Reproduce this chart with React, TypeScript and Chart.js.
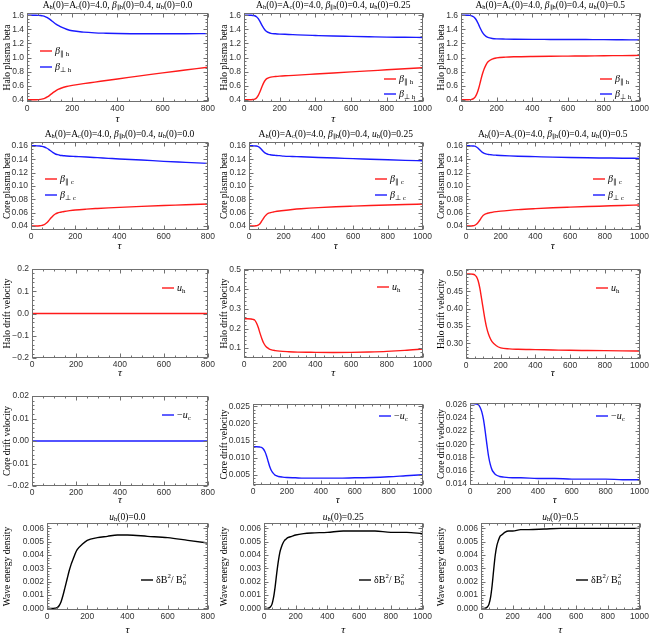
import React, { useEffect, useRef } from 'react';
import { Chart, registerables } from 'chart.js';
Chart.register(...registerables);

// ---------- sample times ----------
const tau800 = [0, 20, 40, 50, 60, 70, 80, 90, 100, 110, 120, 130, 140, 150, 175, 200, 250, 300, 350, 400, 500, 600, 700, 800];
const tau1000 = [0, 20, 40, 50, 60, 70, 80, 90, 100, 110, 120, 130, 140, 150, 175, 200, 250, 300, 400, 500, 600, 700, 800, 900, 1000];
const tauFlat800 = [0, 400, 800];

// ---------- row 1: halo plasma beta ----------
const betaParH_u0 = [0.400, 0.400, 0.400, 0.401, 0.404, 0.411, 0.423, 0.440, 0.462, 0.487, 0.510, 0.531, 0.549, 0.563, 0.588, 0.603, 0.628, 0.650, 0.673, 0.695, 0.738, 0.782, 0.822, 0.862];
const betaPerpH_u0 = [1.600, 1.600, 1.600, 1.599, 1.597, 1.592, 1.582, 1.566, 1.545, 1.520, 1.495, 1.472, 1.452, 1.435, 1.402, 1.380, 1.361, 1.351, 1.346, 1.342, 1.338, 1.338, 1.338, 1.340];
const betaParH_u25 = [0.4, 0.4, 0.4, 0.402, 0.408, 0.425, 0.46, 0.515, 0.58, 0.64, 0.68, 0.702, 0.714, 0.721, 0.729, 0.735, 0.742, 0.75, 0.765, 0.78, 0.795, 0.81, 0.825, 0.84, 0.855];
const betaPerpH_u25 = [1.6, 1.6, 1.6, 1.598, 1.594, 1.58, 1.552, 1.51, 1.46, 1.418, 1.385, 1.364, 1.352, 1.344, 1.337, 1.333, 1.328, 1.322, 1.313, 1.305, 1.3, 1.295, 1.29, 1.288, 1.285];
const betaParH_u5 = [0.4, 0.4, 0.4, 0.401, 0.405, 0.415, 0.44, 0.49, 0.57, 0.67, 0.765, 0.84, 0.895, 0.935, 0.978, 0.994, 1.005, 1.01, 1.015, 1.018, 1.02, 1.022, 1.025, 1.027, 1.03];
const betaPerpH_u5 = [1.6, 1.6, 1.6, 1.599, 1.593, 1.58, 1.555, 1.515, 1.46, 1.405, 1.357, 1.323, 1.301, 1.287, 1.271, 1.265, 1.262, 1.26, 1.258, 1.257, 1.256, 1.255, 1.254, 1.252, 1.25];

// ---------- row 2: core plasma beta ----------
const betaParC_u0 = [0.04, 0.04, 0.0403, 0.041, 0.042, 0.0445, 0.048, 0.052, 0.0555, 0.058, 0.0595, 0.0605, 0.0612, 0.0618, 0.063, 0.064, 0.0653, 0.0663, 0.0672, 0.068, 0.0695, 0.0708, 0.0718, 0.073];
const betaPerpC_u0 = [0.1605, 0.1603, 0.16, 0.1595, 0.1585, 0.157, 0.155, 0.1525, 0.15, 0.148, 0.147, 0.1462, 0.1457, 0.1453, 0.1447, 0.1443, 0.1435, 0.1425, 0.1415, 0.1405, 0.139, 0.137, 0.1355, 0.134];
const betaParC_u25 = [0.04, 0.04, 0.0403, 0.041, 0.0425, 0.046, 0.05, 0.054, 0.057, 0.0588, 0.0598, 0.0605, 0.061, 0.0615, 0.0625, 0.0633, 0.0647, 0.0658, 0.0675, 0.0688, 0.0698, 0.0707, 0.0715, 0.0722, 0.073];
const betaPerpC_u25 = [0.1605, 0.1603, 0.16, 0.1595, 0.158, 0.1555, 0.1525, 0.15, 0.1485, 0.1475, 0.147, 0.1465, 0.1462, 0.146, 0.1455, 0.1448, 0.1443, 0.1438, 0.1428, 0.142, 0.141, 0.1402, 0.1393, 0.1385, 0.1378];
const betaParC_u5 = [0.04, 0.04, 0.0403, 0.041, 0.0425, 0.0455, 0.049, 0.053, 0.056, 0.0578, 0.0588, 0.0595, 0.06, 0.0605, 0.0615, 0.0623, 0.0635, 0.0645, 0.066, 0.0673, 0.0683, 0.0692, 0.07, 0.0708, 0.0715];
const betaPerpC_u5 = [0.1605, 0.1603, 0.16, 0.1597, 0.1585, 0.1565, 0.154, 0.1515, 0.1497, 0.1485, 0.1478, 0.1473, 0.147, 0.1467, 0.1462, 0.1458, 0.1452, 0.1447, 0.144, 0.1433, 0.1427, 0.1423, 0.142, 0.1417, 0.1415];

// ---------- row 3: halo drift velocity ----------
const uH_u0 = [0, 0, 0];
const uH_u25 = [0.25, 0.25, 0.249, 0.247, 0.243, 0.228, 0.205, 0.175, 0.148, 0.126, 0.111, 0.102, 0.096, 0.092, 0.087, 0.084, 0.081, 0.079, 0.078, 0.0775, 0.078, 0.08, 0.083, 0.088, 0.095];
const uH_u5 = [0.5, 0.5, 0.499, 0.497, 0.492, 0.48, 0.458, 0.428, 0.397, 0.367, 0.343, 0.326, 0.314, 0.305, 0.293, 0.287, 0.284, 0.283, 0.282, 0.281, 0.28, 0.2795, 0.279, 0.2785, 0.278];

// ---------- row 4: core drift velocity (−u_c) ----------
const uC_u0 = [0, 0, 0];
const uC_u25 = [0.0132, 0.0132, 0.0131, 0.013, 0.0126, 0.0118, 0.0105, 0.0088, 0.0072, 0.0061, 0.0054, 0.0049, 0.0047, 0.0045, 0.0043, 0.0042, 0.0041, 0.004, 0.004, 0.004, 0.0041, 0.0042, 0.0044, 0.0047, 0.005];
const uC_u5 = [0.0262, 0.0262, 0.0261, 0.026, 0.0256, 0.0249, 0.0237, 0.0219, 0.0199, 0.0181, 0.0169, 0.0161, 0.0157, 0.0154, 0.0151, 0.015, 0.0149, 0.0149, 0.0148, 0.0148, 0.0147, 0.0147, 0.0147, 0.0146, 0.0146];

// ---------- row 5: wave energy density ----------
const wave_u0 = [0, 0, 0.00002, 0.00006, 0.0002, 0.0005, 0.001, 0.0016, 0.0022, 0.0028, 0.0033, 0.0037, 0.0041, 0.0044, 0.0048, 0.0051, 0.0053, 0.0054, 0.0055, 0.0055, 0.0054, 0.0053, 0.0051, 0.0049];
const wave_u25 = [0, 0, 0.0001, 0.0003, 0.0008, 0.0016, 0.0026, 0.0035, 0.0042, 0.0046, 0.0049, 0.0051, 0.0052, 0.0053, 0.0054, 0.0055, 0.0056, 0.00565, 0.0057, 0.0058, 0.0058, 0.0058, 0.0057, 0.0057, 0.0056];
const wave_u5 = [0, 0, 0.0001, 0.0003, 0.0008, 0.0017, 0.0029, 0.004, 0.0047, 0.0051, 0.0054, 0.0055, 0.0056, 0.0057, 0.0058, 0.0058, 0.0059, 0.0059, 0.00595, 0.006, 0.006, 0.006, 0.006, 0.006, 0.006];

// ---------- tick labels ----------
const xTicks800 = [0, 200, 400, 600, 800];
const xTicks1000 = [0, 200, 400, 600, 800, 1000];
const yTicksBetaH = [0.4, 0.6, 0.8, 1.0, 1.2, 1.4, 1.6];
const yTicksBetaC = [0.04, 0.06, 0.08, 0.10, 0.12, 0.14, 0.16];
const yTicksUH0 = [-0.2, -0.1, 0, 0.1, 0.2];
const yTicksUH25 = [0.1, 0.2, 0.3, 0.4, 0.5];
const yTicksUH5 = [0.30, 0.35, 0.40, 0.45, 0.50];
const yTicksUC0 = [-0.02, -0.01, 0, 0.01, 0.02];
const yTicksUC25 = [0.005, 0.010, 0.015, 0.020, 0.025];
const yTicksUC5 = [0.014, 0.016, 0.018, 0.020, 0.022, 0.024, 0.026];
const yTicksWave = [0, 0.001, 0.002, 0.003, 0.004, 0.005, 0.006];
const u0Labels = ['0.0', '0.25', '0.5'];

// ---------- styling ----------
const SERIF = '"Liberation Serif", "Times New Roman", serif';
const SANS = '"Liberation Sans", Arial, sans-serif';
const RED = '#ff1a1a';
const BLUE = '#1a1aff';
const BLACK = '#000000';
const FRAME = '#707070';
const TICKTXT = '#333333';
const COLX = [0, 217, 434];
const ROWY = [0, 127, 254, 381, 508];
const ROWH = [127, 127, 127, 127, 129];

type Seg = { t: string; it?: boolean; sub?: boolean; sup?: boolean; sup2?: string };

function segFont(size: number, it?: boolean) {
  return `${it ? 'italic ' : ''}${size}px ${SERIF}`;
}

function drawRich(ctx: CanvasRenderingContext2D, segs: Seg[], x: number, y: number, size: number, align: 'left' | 'center') {
  const small = size * 0.68;
  const widths = segs.map((s) => {
    const sz = s.sub || s.sup ? small : size;
    ctx.font = segFont(sz, s.it);
    let w = ctx.measureText(s.t).width;
    if (s.sup2) {
      ctx.font = segFont(small, false);
      w = Math.max(w, ctx.measureText(s.sup2).width);
    }
    return w;
  });
  const total = widths.reduce((a, b) => a + b, 0);
  let cx = align === 'center' ? x - total / 2 : x;
  ctx.textBaseline = 'middle';
  ctx.textAlign = 'left';
  segs.forEach((s, i) => {
    const sz = s.sub || s.sup ? small : size;
    ctx.font = segFont(sz, s.it);
    let dy = 0;
    if (s.sub) dy = size * 0.28;
    if (s.sup) dy = -size * 0.33;
    ctx.fillText(s.t, cx, y + dy);
    if (s.sup2) {
      ctx.font = segFont(small, false);
      ctx.fillText(s.sup2, cx, y - size * 0.33);
    }
    cx += widths[i];
  });
}

function topTitle(u: string): Seg[] {
  return [
    { t: 'A' }, { t: 'h', sub: true }, { t: '(0)=A' }, { t: 'c', sub: true }, { t: '(0)=4.0, ' },
    { t: 'β', it: true }, { t: '∥h', sub: true }, { t: '(0)=0.4, ' },
    { t: 'u', it: true }, { t: 'h', sub: true }, { t: `(0)=${u}` },
  ];
}
function waveTitle(u: string): Seg[] {
  return [{ t: 'u', it: true }, { t: 'h', sub: true }, { t: `(0)=${u}` }];
}
const LBL_BPAR_H: Seg[] = [{ t: 'β', it: true }, { t: '∥ h', sub: true }];
const LBL_BPERP_H: Seg[] = [{ t: 'β', it: true }, { t: '⊥ h', sub: true }];
const LBL_BPAR_C: Seg[] = [{ t: 'β', it: true }, { t: '∥ c', sub: true }];
const LBL_BPERP_C: Seg[] = [{ t: 'β', it: true }, { t: '⊥ c', sub: true }];
const LBL_UH: Seg[] = [{ t: 'u', it: true }, { t: 'h', sub: true }];
const LBL_UC: Seg[] = [{ t: '−' }, { t: 'u', it: true }, { t: 'c', sub: true }];
const LBL_WAVE: Seg[] = [{ t: 'δB' }, { t: '2', sup: true }, { t: '/ B' }, { t: '0', sub: true, sup2: '2' }];

type Series = { tau: number[]; vals: number[]; color: string; label: Seg[] };
type PanelCfg = {
  col: number; row: number;
  area: { l: number; t: number; r: number; b: number };
  xMax: number; xTicks: number[];
  yMin: number; yMax: number; yTicks: number[]; yDec: number; yMinor: number;
  yTitle: string;
  title?: Seg[]; titleY?: number;
  legend: { x: number; y: number; dy: number };
  series: Series[];
  xBottomPad: number;
};

function fmt(v: number, dec: number) {
  const s = Math.abs(v) < 1e-12 ? (0).toFixed(dec) : v.toFixed(dec);
  return s.replace('-', '−');
}

function decoPlugin(p: PanelCfg) {
  return {
    id: 'deco',
    afterDraw(chart: any) {
      const ctx: CanvasRenderingContext2D = chart.ctx;
      const a = chart.chartArea;
      const xs = chart.scales.x;
      const ys = chart.scales.y;
      const L = Math.round(a.left) + 0.5, R = Math.round(a.right) - 0.5;
      const T = Math.round(a.top) + 0.5, B = Math.round(a.bottom) - 0.5;
      ctx.save();
      ctx.strokeStyle = FRAME;
      ctx.lineWidth = 1;
      ctx.strokeRect(L, T, R - L, B - T);
      ctx.beginPath();
      const xStep = p.xTicks[1] - p.xTicks[0];
      const xm = xStep / 4;
      for (let k = 0; k * xm <= p.xMax + 1e-9; k++) {
        const v = k * xm;
        const major = k % 4 === 0;
        const len = major ? 4 : 2;
        const px = Math.round(xs.getPixelForValue(v)) + 0.5;
        ctx.moveTo(px, B); ctx.lineTo(px, B - len);
        ctx.moveTo(px, T); ctx.lineTo(px, T + len);
      }
      const yStep = p.yTicks[1] - p.yTicks[0];
      const ym = yStep / p.yMinor;
      const k0 = Math.ceil((p.yMin - p.yTicks[0]) / ym - 1e-6);
      const k1 = Math.floor((p.yMax - p.yTicks[0]) / ym + 1e-6);
      for (let k = k0; k <= k1; k++) {
        const v = p.yTicks[0] + k * ym;
        const major = ((k % p.yMinor) + p.yMinor) % p.yMinor === 0;
        const len = major ? 4 : 2;
        const py = Math.round(ys.getPixelForValue(v)) + 0.5;
        ctx.moveTo(L, py); ctx.lineTo(L + len, py);
        ctx.moveTo(R, py); ctx.lineTo(R - len, py);
      }
      ctx.stroke();
      const cellL = COLX[p.col], cellT = ROWY[p.row];
      ctx.fillStyle = '#000';
      if (p.title && p.titleY !== undefined) {
        drawRich(ctx, p.title, (a.left + a.right) / 2, p.titleY - cellT, 9.5, 'center');
      }
      p.series.forEach((s, i) => {
        const y = p.legend.y - cellT + i * p.legend.dy;
        const x = p.legend.x - cellL;
        ctx.strokeStyle = s.color;
        ctx.lineWidth = 1.4;
        ctx.beginPath();
        ctx.moveTo(x, y); ctx.lineTo(x + 12, y);
        ctx.stroke();
        ctx.fillStyle = '#000';
        drawRich(ctx, s.label, x + 15, y, 10, 'left');
      });
      ctx.restore();
    },
  };
}

function buildConfig(p: PanelCfg): any {
  const cellL = COLX[p.col], cellT = ROWY[p.row];
  const cellR = cellL + 217, cellB = cellT + ROWH[p.row];
  const { l, t, r, b } = p.area;
  return {
    type: 'line',
    data: {
      datasets: p.series.map((s) => ({
        data: s.tau.map((x, i) => ({ x, y: s.vals[i] })),
        borderColor: s.color,
        borderWidth: 1.4,
        pointRadius: 0,
        cubicInterpolationMode: 'monotone',
        fill: false,
      })),
    },
    options: {
      responsive: false,
      animation: false,
      devicePixelRatio: 1,
      layout: { padding: { left: 0, right: cellR - r, top: t - cellT, bottom: 0 } },
      plugins: { legend: { display: false }, tooltip: { enabled: false }, title: { display: false } },
      scales: {
        x: {
          type: 'linear',
          min: 0,
          max: p.xMax,
          afterBuildTicks: (s: any) => { s.ticks = p.xTicks.map((v) => ({ value: v })); },
          afterFit: (s: any) => { s.height = cellB - b; },
          grid: { display: false, drawTicks: false },
          border: { display: false },
          ticks: {
            autoSkip: false, maxRotation: 0, padding: 2, color: TICKTXT,
            font: { family: SANS, size: 8.5 },
            callback: (v: any) => String(v),
          },
          title: {
            display: true, text: 'τ', color: '#000',
            font: { family: SERIF, size: 11, style: 'italic' },
            padding: { top: 0, bottom: p.xBottomPad },
          },
        },
        y: {
          type: 'linear',
          min: p.yMin,
          max: p.yMax,
          afterBuildTicks: (s: any) => { s.ticks = p.yTicks.map((v) => ({ value: v })); },
          afterFit: (s: any) => { s.width = l - cellL; },
          grid: { display: false, drawTicks: false },
          border: { display: false },
          ticks: {
            autoSkip: false, padding: 3, color: TICKTXT,
            font: { family: SANS, size: 8.5 },
            callback: (v: any) => fmt(Number(v), p.yDec),
          },
          title: {
            display: true, text: p.yTitle, color: '#000',
            font: { family: SERIF, size: 9.5 },
            padding: { top: 2, bottom: 0 },
          },
        },
      },
    },
    plugins: [decoPlugin(p)],
  };
}

const panels: PanelCfg[] = [
  // row 1
  {
    col: 0, row: 0, area: { l: 27, t: 13, r: 208, b: 102 }, xMax: 800, xTicks: xTicks800,
    yMin: 0.367, yMax: 1.633, yTicks: yTicksBetaH, yDec: 1, yMinor: 4, yTitle: 'Halo plasma beta',
    title: topTitle(u0Labels[0]), titleY: 5, legend: { x: 40, y: 51, dy: 16 }, xBottomPad: 1,
    series: [
      { tau: tau800, vals: betaParH_u0, color: RED, label: LBL_BPAR_H },
      { tau: tau800, vals: betaPerpH_u0, color: BLUE, label: LBL_BPERP_H },
    ],
  },
  {
    col: 1, row: 0, area: { l: 244, t: 13, r: 424, b: 102 }, xMax: 1000, xTicks: xTicks1000,
    yMin: 0.367, yMax: 1.633, yTicks: yTicksBetaH, yDec: 1, yMinor: 4, yTitle: 'Halo plasma beta',
    title: topTitle(u0Labels[1]), titleY: 5, legend: { x: 384, y: 79, dy: 15 }, xBottomPad: 1,
    series: [
      { tau: tau1000, vals: betaParH_u25, color: RED, label: LBL_BPAR_H },
      { tau: tau1000, vals: betaPerpH_u25, color: BLUE, label: LBL_BPERP_H },
    ],
  },
  {
    col: 2, row: 0, area: { l: 461, t: 13, r: 641, b: 102 }, xMax: 1000, xTicks: xTicks1000,
    yMin: 0.367, yMax: 1.633, yTicks: yTicksBetaH, yDec: 1, yMinor: 4, yTitle: 'Halo plasma beta',
    title: topTitle(u0Labels[2]), titleY: 5, legend: { x: 600, y: 79, dy: 15 }, xBottomPad: 1,
    series: [
      { tau: tau1000, vals: betaParH_u5, color: RED, label: LBL_BPAR_H },
      { tau: tau1000, vals: betaPerpH_u5, color: BLUE, label: LBL_BPERP_H },
    ],
  },
  // row 2
  {
    col: 0, row: 1, area: { l: 31, t: 142, r: 208, b: 230 }, xMax: 800, xTicks: xTicks800,
    yMin: 0.034, yMax: 0.166, yTicks: yTicksBetaC, yDec: 2, yMinor: 4, yTitle: 'Core plasma beta',
    title: topTitle(u0Labels[0]), titleY: 134, legend: { x: 45, y: 179, dy: 16 }, xBottomPad: 1,
    series: [
      { tau: tau800, vals: betaParC_u0, color: RED, label: LBL_BPAR_C },
      { tau: tau800, vals: betaPerpC_u0, color: BLUE, label: LBL_BPERP_C },
    ],
  },
  {
    col: 1, row: 1, area: { l: 249, t: 142, r: 424, b: 230 }, xMax: 1000, xTicks: xTicks1000,
    yMin: 0.034, yMax: 0.166, yTicks: yTicksBetaC, yDec: 2, yMinor: 4, yTitle: 'Core plasma beta',
    title: topTitle(u0Labels[1]), titleY: 134, legend: { x: 375, y: 179, dy: 16 }, xBottomPad: 1,
    series: [
      { tau: tau1000, vals: betaParC_u25, color: RED, label: LBL_BPAR_C },
      { tau: tau1000, vals: betaPerpC_u25, color: BLUE, label: LBL_BPERP_C },
    ],
  },
  {
    col: 2, row: 1, area: { l: 466, t: 142, r: 641, b: 230 }, xMax: 1000, xTicks: xTicks1000,
    yMin: 0.034, yMax: 0.166, yTicks: yTicksBetaC, yDec: 2, yMinor: 4, yTitle: 'Core plasma beta',
    title: topTitle(u0Labels[2]), titleY: 134, legend: { x: 593, y: 179, dy: 16 }, xBottomPad: 1,
    series: [
      { tau: tau1000, vals: betaParC_u5, color: RED, label: LBL_BPAR_C },
      { tau: tau1000, vals: betaPerpC_u5, color: BLUE, label: LBL_BPERP_C },
    ],
  },
  // row 3
  {
    col: 0, row: 2, area: { l: 32, t: 269, r: 208, b: 358 }, xMax: 800, xTicks: xTicks800,
    yMin: -0.2, yMax: 0.2, yTicks: yTicksUH0, yDec: 1, yMinor: 5, yTitle: 'Halo drift velocity',
    legend: { x: 162, y: 288, dy: 0 }, xBottomPad: 1,
    series: [{ tau: tauFlat800, vals: uH_u0, color: RED, label: LBL_UH }],
  },
  {
    col: 1, row: 2, area: { l: 244, t: 269, r: 424, b: 358 }, xMax: 1000, xTicks: xTicks1000,
    yMin: 0.049, yMax: 0.505, yTicks: yTicksUH25, yDec: 1, yMinor: 5, yTitle: 'Halo drift velocity',
    legend: { x: 377, y: 287, dy: 0 }, xBottomPad: 1,
    series: [{ tau: tau1000, vals: uH_u25, color: RED, label: LBL_UH }],
  },
  {
    col: 2, row: 2, area: { l: 466, t: 269, r: 641, b: 359 }, xMax: 1000, xTicks: xTicks1000,
    yMin: 0.255, yMax: 0.514, yTicks: yTicksUH5, yDec: 2, yMinor: 5, yTitle: 'Halo drift velocity',
    legend: { x: 596, y: 288, dy: 0 }, xBottomPad: 1,
    series: [{ tau: tau1000, vals: uH_u5, color: RED, label: LBL_UH }],
  },
  // row 4
  {
    col: 0, row: 3, area: { l: 32, t: 396, r: 208, b: 486 }, xMax: 800, xTicks: xTicks800,
    yMin: -0.02, yMax: 0.02, yTicks: yTicksUC0, yDec: 2, yMinor: 5, yTitle: 'Core drift velocity',
    legend: { x: 162, y: 415, dy: 0 }, xBottomPad: 1,
    series: [{ tau: tauFlat800, vals: uC_u0, color: BLUE, label: LBL_UC }],
  },
  {
    col: 1, row: 3, area: { l: 253, t: 404, r: 424, b: 485 }, xMax: 1000, xTicks: xTicks1000,
    yMin: 0.002, yMax: 0.0257, yTicks: yTicksUC25, yDec: 3, yMinor: 5, yTitle: 'Core drift velocity',
    legend: { x: 379, y: 416, dy: 0 }, xBottomPad: 1,
    series: [{ tau: tau1000, vals: uC_u25, color: BLUE, label: LBL_UC }],
  },
  {
    col: 2, row: 3, area: { l: 470, t: 403, r: 641, b: 485 }, xMax: 1000, xTicks: xTicks1000,
    yMin: 0.0138, yMax: 0.02628, yTicks: yTicksUC5, yDec: 3, yMinor: 4, yTitle: 'Core drift velocity',
    legend: { x: 596, y: 416, dy: 0 }, xBottomPad: 1,
    series: [{ tau: tau1000, vals: uC_u5, color: BLUE, label: LBL_UC }],
  },
  // row 5
  {
    col: 0, row: 4, area: { l: 47, t: 523, r: 208, b: 610 }, xMax: 800, xTicks: xTicks800,
    yMin: -0.00012, yMax: 0.0064, yTicks: yTicksWave, yDec: 3, yMinor: 5, yTitle: 'Wave energy density',
    title: waveTitle(u0Labels[0]), titleY: 517, legend: { x: 141, y: 580, dy: 0 }, xBottomPad: 0,
    series: [{ tau: tau800, vals: wave_u0, color: BLACK, label: LBL_WAVE }],
  },
  {
    col: 1, row: 4, area: { l: 264, t: 523, r: 424, b: 610 }, xMax: 1000, xTicks: xTicks1000,
    yMin: -0.00012, yMax: 0.0064, yTicks: yTicksWave, yDec: 3, yMinor: 5, yTitle: 'Wave energy density',
    title: waveTitle(u0Labels[1]), titleY: 517, legend: { x: 359, y: 580, dy: 0 }, xBottomPad: 0,
    series: [{ tau: tau1000, vals: wave_u25, color: BLACK, label: LBL_WAVE }],
  },
  {
    col: 2, row: 4, area: { l: 481, t: 523, r: 641, b: 610 }, xMax: 1000, xTicks: xTicks1000,
    yMin: -0.00012, yMax: 0.0064, yTicks: yTicksWave, yDec: 3, yMinor: 5, yTitle: 'Wave energy density',
    title: waveTitle(u0Labels[2]), titleY: 517, legend: { x: 576, y: 580, dy: 0 }, xBottomPad: 0,
    series: [{ tau: tau1000, vals: wave_u5, color: BLACK, label: LBL_WAVE }],
  },
];

function Panel({ cfg }: { cfg: PanelCfg }) {
  const ref = useRef<HTMLCanvasElement | null>(null);
  useEffect(() => {
    if (!ref.current) return;
    const chart = new Chart(ref.current, buildConfig(cfg));
    return () => chart.destroy();
  }, [cfg]);
  const w = 217;
  const h = ROWH[cfg.row];
  return (
    <canvas
      ref={ref}
      width={w}
      height={h}
      style={{ position: 'absolute', left: COLX[cfg.col], top: ROWY[cfg.row], width: w, height: h }}
    />
  );
}

export default function App() {
  return (
    <div style={{ position: 'absolute', left: 0, top: 0, width: 651, height: 637, background: '#fff', overflow: 'hidden' }}>
      {panels.map((p, i) => (
        <Panel key={i} cfg={p} />
      ))}
    </div>
  );
}
